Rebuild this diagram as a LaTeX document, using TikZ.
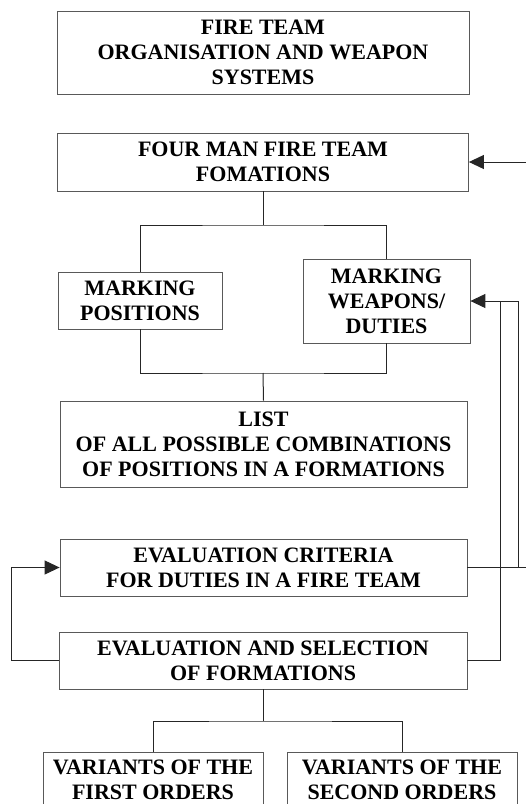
\documentclass[tikz,border=0pt]{standalone}
\usepackage{fontspec}
\setmainfont{Liberation Serif}
\usetikzlibrary{arrows.meta, positioning}

\begin{document}
\begin{tikzpicture}[x=1pt, y=-1pt, font=\bfseries\fontsize{22}{25}\selectfont,
    >={Triangle[length=15pt, width=14pt]},
    stage/.style={draw=black!65, line width=0.8pt, fill=white, align=center, inner sep=2pt},
    link/.style={draw=black!85, line width=1pt}]
  \useasboundingbox (0,0) rectangle (526,804);
  \clip (0,0) rectangle (526,804);
  % ---- stages of the method ----
  \node[stage, minimum width=412pt, minimum height=83pt] (org)  at (263,52.5)
    {FIRE TEAM\\ORGANISATION AND WEAPON\\SYSTEMS};
  \node[stage, minimum width=411pt, minimum height=58pt] (form) at (263,162)
    {FOUR MAN FIRE TEAM\\FOMATIONS};
  \node[stage, minimum width=164pt, minimum height=57pt] (pos)  at (140,300.5)
    {MARKING\\POSITIONS};
  \node[stage, minimum width=167pt, minimum height=84pt] (duty) at (386.5,301)
    {MARKING\\WEAPONS/\\DUTIES};
  \node[stage, minimum width=407pt, minimum height=86pt] (list) at (263.5,444)
    {LIST\\OF ALL POSSIBLE COMBINATIONS\\OF POSITIONS IN A FORMATIONS};
  \node[stage, minimum width=407pt, minimum height=57pt] (crit) at (263.5,567.5)
    {EVALUATION CRITERIA\\FOR DUTIES IN A FIRE TEAM};
  \node[stage, minimum width=408pt, minimum height=57pt] (sel)  at (263,660.5)
    {EVALUATION AND SELECTION\\OF FORMATIONS};
  \node[stage, anchor=north, minimum width=220pt, inner ysep=8pt] (var1) at (153,752)
    {VARIANTS OF THE\\FIRST ORDERS};
  \node[stage, anchor=north, minimum width=230pt, inner ysep=8pt] (var2) at (402,752)
    {VARIANTS OF THE\\SECOND ORDERS};
  % ---- tree links ----
  \coordinate (fork1) at (263,225);
  \coordinate (join1) at (263,373);
  \coordinate (fork2) at (263,721);
  \draw[link] (form.south) -- (fork1);
  \draw[link] (pos.north) |- (fork1) -| (duty.north);
  \draw[link] (pos.south) |- (join1) -| (duty.south);
  \draw[link] (join1) -- (list.north);
  \draw[link] (sel.south) -- (fork2);
  \draw[link] (var1.north) |- (fork2) -| (var2.north);
  % ---- feedback loops ----
  \coordinate (inTop)   at (526,162);
  \coordinate (critOut) at (526,567.5);
  \coordinate (busA)    at (518,0);
  \coordinate (busB)    at (500,0);
  \coordinate (busL)    at (11,0);
  \draw[link, ->] (inTop) -- (form.east);
  \draw[link] (crit.east) -- (critOut);
  \draw[link, ->] (crit.east -| busA) |- (duty.east);
  \draw[link] (sel.east) -| (busB |- duty.east);
  \draw[link, ->] (sel.west) -| (busL |- crit.west) -- (crit.west);
\end{tikzpicture}
\end{document}
